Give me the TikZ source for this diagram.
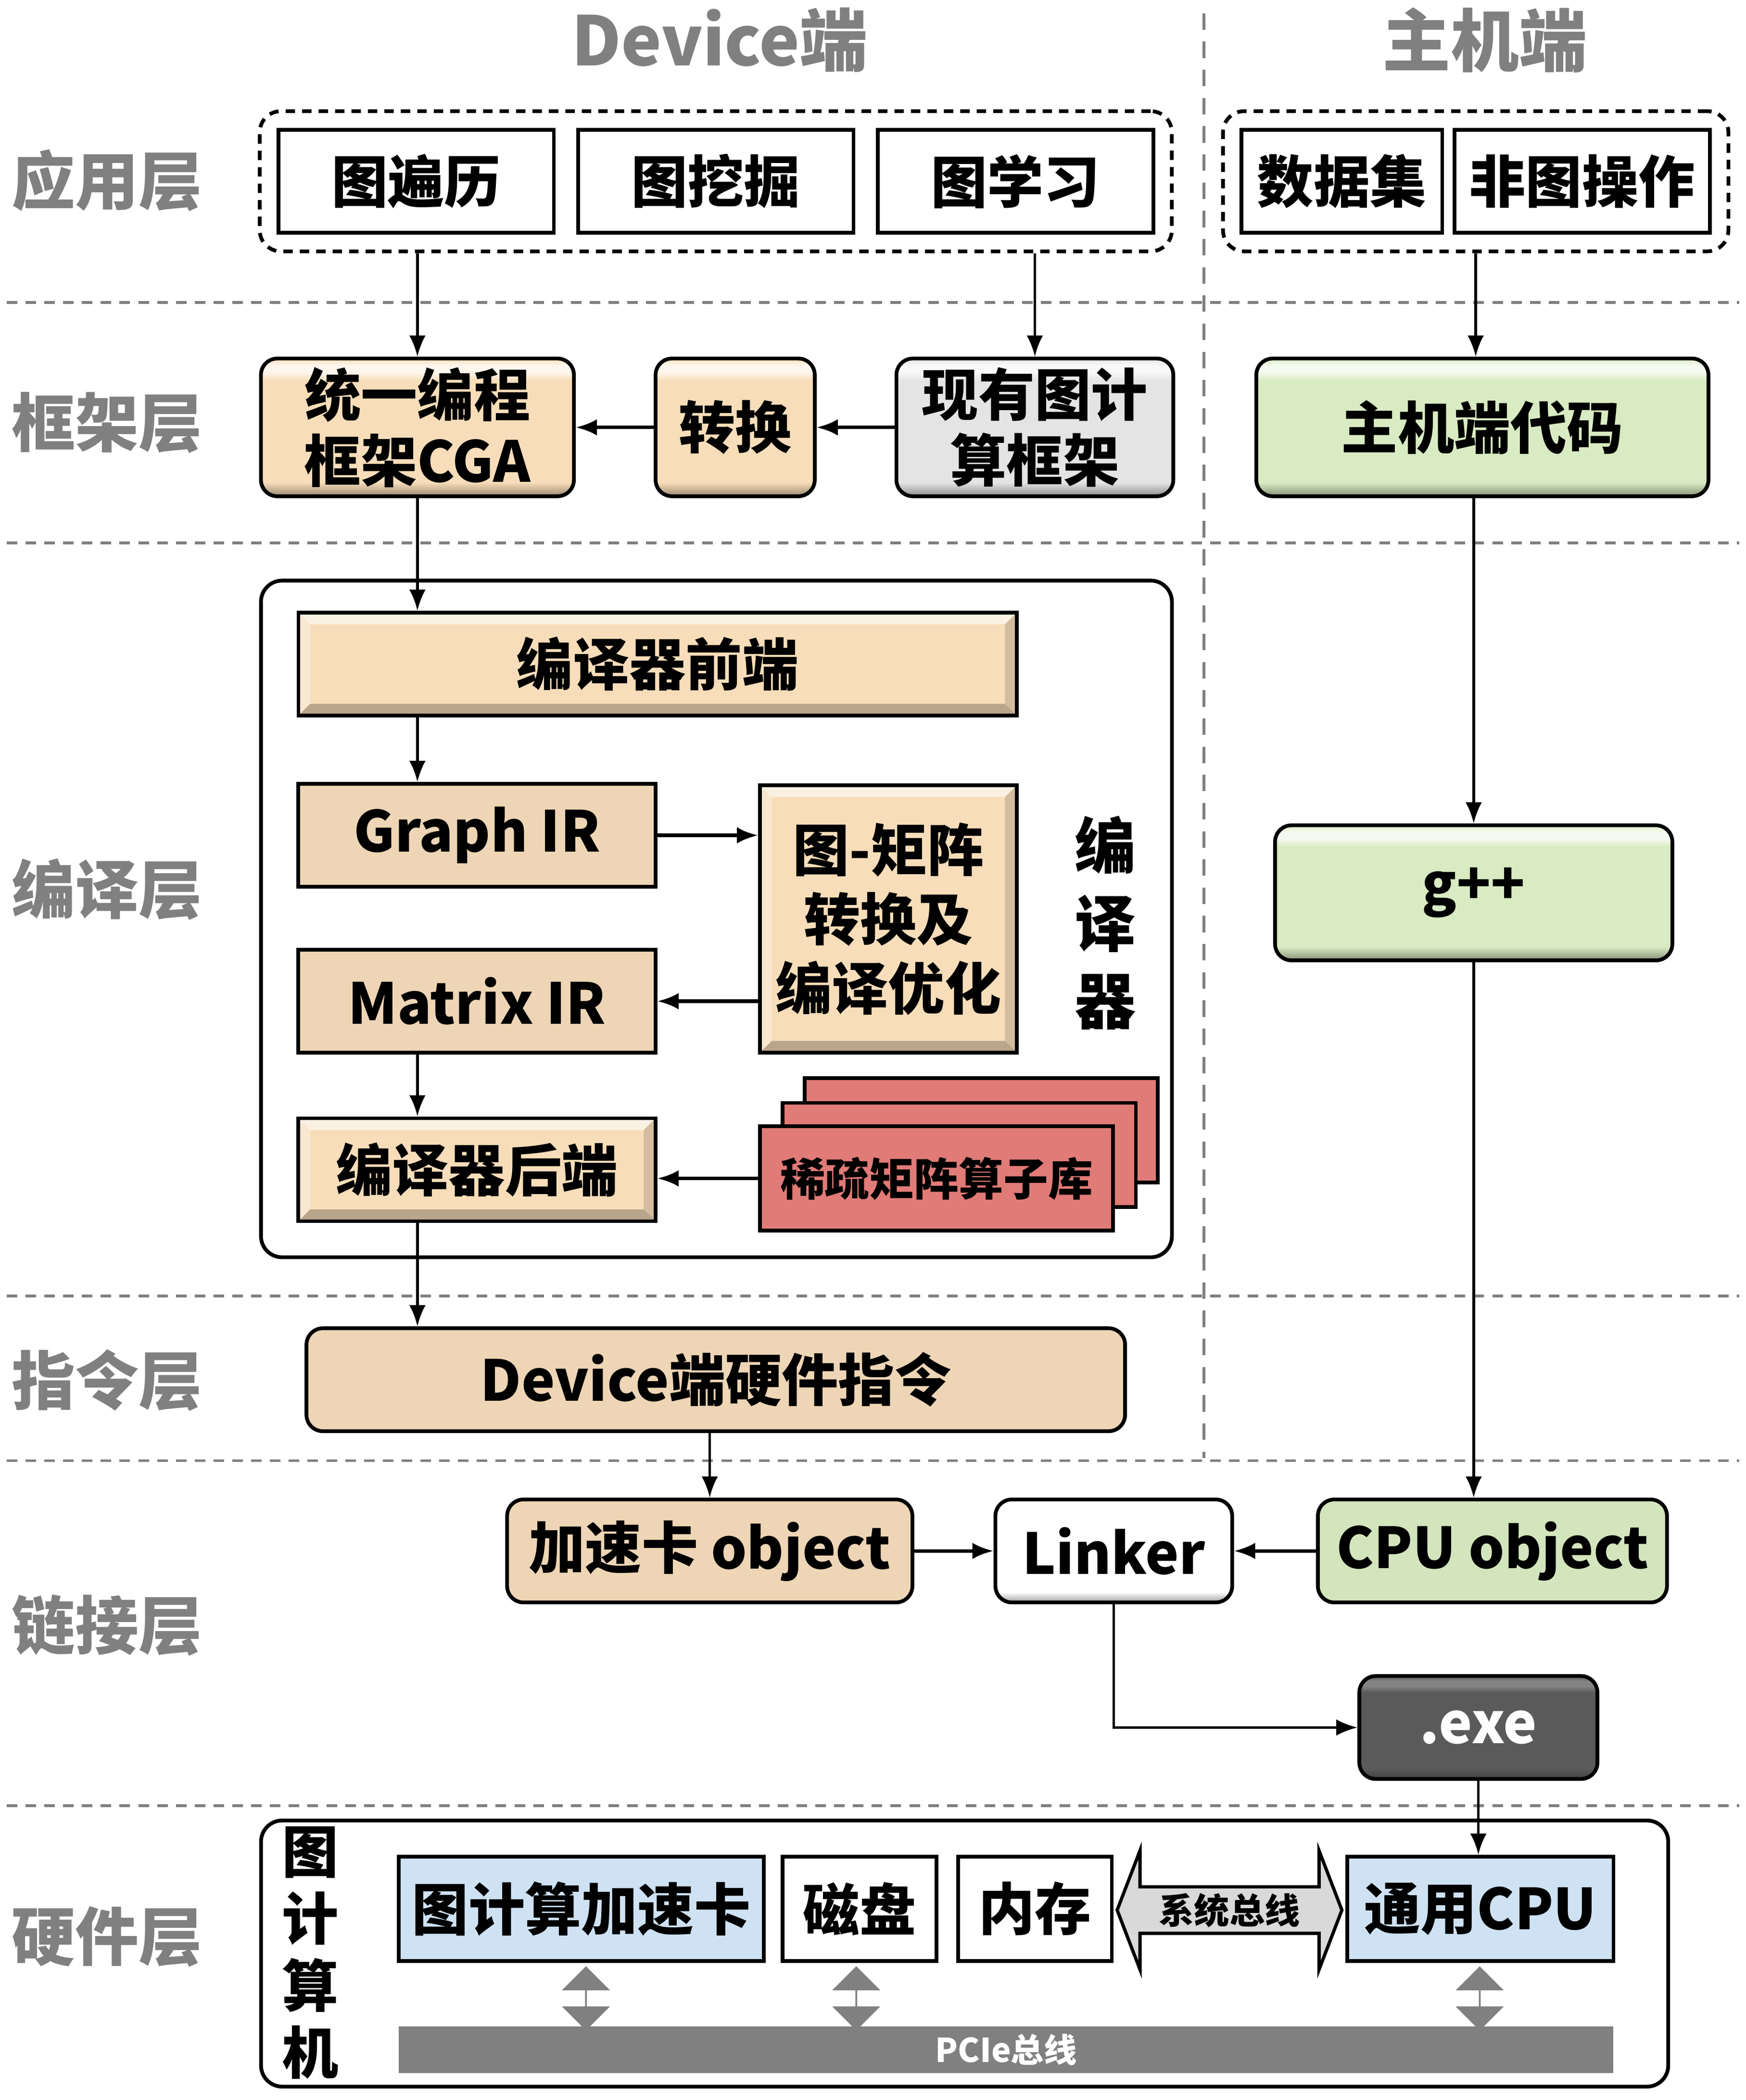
\documentclass[tikz,border=0pt]{standalone}
\usepackage{fontspec}
\setmainfont{Noto Sans CJK SC}
\usetikzlibrary{arrows.meta, calc, positioning, fit, shapes.arrows}

\definecolor{laygray}{HTML}{808080}
\definecolor{sepgray}{HTML}{7F7F7F}
\definecolor{wheatc}{HTML}{F7DDB9}
\definecolor{tanc}{HTML}{EED5B5}
\definecolor{greenc}{HTML}{D9EBC2}
\definecolor{cpugreen}{HTML}{D3E5BC}
\definecolor{redc}{HTML}{E17B77}
\definecolor{bluec}{HTML}{CFE2F3}
\definecolor{busgray}{HTML}{808080}
\definecolor{exegray}{HTML}{5A5A5A}
\definecolor{graybox}{HTML}{E4E4E4}
\colorlet{gelbase}{wheatc}
\colorlet{gellight}{white}
\colorlet{geldark}{black}

\pgfdeclareverticalshading[gelbase,gellight,geldark]{gelshade}{100bp}{
  color(0bp)=(geldark); color(25bp)=(geldark); color(30bp)=(gelbase);
  color(67bp)=(gelbase); color(70bp)=(gellight); color(72.5bp)=(gellight);
  color(75bp)=(gelbase); color(100bp)=(gelbase)}

\tikzset{
  bevel/.style={draw, line width=1.6pt, fill=#1, path picture={
    \path (path picture bounding box.north west) coordinate (b1)
          (path picture bounding box.north east) coordinate (b2)
          (path picture bounding box.south east) coordinate (b3)
          (path picture bounding box.south west) coordinate (b4);
    \fill[white, opacity=.6] (b1) -- (b2) -- ([shift={(-5pt,-5pt)}]b2) -- ([shift={(5pt,-5pt)}]b1) -- cycle;
    \fill[white, opacity=.35] (b1) -- (b4) -- ([shift={(5pt,5pt)}]b4) -- ([shift={(5pt,-5pt)}]b1) -- cycle;
    \fill[black, opacity=.25] (b4) -- (b3) -- ([shift={(-5pt,5pt)}]b3) -- ([shift={(5pt,5pt)}]b4) -- cycle;
    \fill[black, opacity=.15] (b2) -- (b3) -- ([shift={(-5pt,5pt)}]b3) -- ([shift={(-5pt,-5pt)}]b2) -- cycle;
  }},
  gel/.style={draw, line width=1.6pt, rounded corners=7pt,
    /utils/exec={\colorlet{gelbase}{#1}\colorlet{gellight}{#1!25!white}\colorlet{geldark}{#1!62!black}},
    shading=gelshade},
}

\begin{document}
\begin{tikzpicture}[x=0.02cm, y=-0.02cm, >={Latex[length=9pt, width=7pt]},
  every node/.style={inner sep=0pt, font=\bfseries},
  sep/.style={draw=sepgray, line width=1.2pt, dash pattern=on 4.5pt off 3.5pt},
  vsep/.style={draw=sepgray, line width=1.2pt, dash pattern=on 7pt off 5pt},
  hdr/.style={text=laygray, font=\fontsize{29}{29}\selectfont\bfseries},
  lyr/.style={text=laygray, font=\fontsize{27}{27}\selectfont\bfseries},
  bigtxt/.style={font=\fontsize{24}{28}\selectfont\bfseries},
  appbox/.style={draw, line width=1.6pt, fill=white, minimum height=1.54cm, bigtxt},
  grp/.style={draw, line width=1.6pt, dash pattern=on 4pt off 3pt, rounded corners=9pt, inner sep=0.25cm},
  panel/.style={draw, line width=1.6pt, rounded corners=9pt},
  flatbox/.style={draw, line width=1.6pt, fill=#1, bigtxt},
  rbox/.style={draw, line width=1.6pt, rounded corners=7pt, fill=#1, bigtxt},
  libbox/.style={draw, line width=1.6pt, fill=redc, minimum width=5.28cm, minimum height=1.56cm},
  hwbox/.style={draw, line width=1.6pt, fill=#1, minimum height=1.56cm, bigtxt},
  updown/.style={double arrow, fill=busgray, rotate=90, minimum height=0.96cm,
    minimum width=0.72cm, double arrow head extend=0.18cm, double arrow tip angle=90},
  wide/.style={line width=1.5pt},
  thinarr/.style={line width=1.1pt}]

  \useasboundingbox (0,0) rectangle (1305,1570);

  % layer separators
  \foreach \y in {226, 406, 969, 1092, 1350}
    \draw[sep] (5,\y) -- (1300,\y);
  \draw[vsep] (900,10) -- (900,1090);

  % headers and layer names
  \node[hdr] (devhdr) at (538,30) {Device端};
  \node[hdr] (hosthdr) at (1110,30) {主机端};
  \foreach \y/\txt in {135/应用层, 316/框架层, 665/编译层, 1032/指令层, 1215/链接层, 1448/硬件层}
    \node[lyr] (lyr\y) at (80,\y) {\txt};

  % containers
  \node[panel, minimum width=13.62cm, minimum height=10.12cm] (comp) at (535.5,687) {};
  \node[panel, minimum width=21.04cm, minimum height=3.98cm] (hw) at (721,1460.5) {};

  % application layer
  \node[appbox, minimum width=4.12cm] (bianli) at (311,135.5) {图遍历};
  \node[appbox, minimum width=4.12cm] (wajue) at (535,135.5) {图挖掘};
  \node[appbox, minimum width=4.12cm] (xuexi) at (759,135.5) {图学习};
  \node[appbox, minimum width=3cm] (dataset) at (1003,135.5) {数据集};
  \node[appbox, minimum width=3.82cm] (nongraph) at (1182.5,135.5) {非图操作};
  \node[grp, fit=(bianli)(xuexi)] (appdev) {};
  \node[grp, fit=(dataset)(nongraph)] (apphost) {};

  % framework layer
  \node[gel=wheatc, minimum width=4.68cm, minimum height=2.06cm, align=center, bigtxt] (cga) at (312,319.5) {统一编程\\框架CGA};
  \node[gel=wheatc, minimum width=2.38cm, minimum height=2.06cm, bigtxt] (conv) at (549.5,319.5) {转换};
  \node[gel=graybox, minimum width=4.14cm, minimum height=2.06cm, align=center, bigtxt] (exist) at (773.5,319.5) {现有图计\\算框架};
  \node[gel=greenc, minimum width=6.76cm, minimum height=2.06cm, bigtxt] (hostcode) at (1108,319.5) {主机端代码};

  % compile layer
  \node[bevel=wheatc, minimum width=10.74cm, minimum height=1.54cm, bigtxt] (front) at (491.5,496.5) {编译器前端};
  \node[flatbox=tanc, minimum width=5.34cm, minimum height=1.54cm] (graphir) at (356.5,624.5) {Graph IR};
  \node[bevel=wheatc, minimum width=3.84cm, minimum height=4cm, align=center,
    font=\fontsize{24}{29.5}\selectfont\bfseries] (g2m) at (664,687) {图-矩阵\\转换及\\编译优化};
  \node[flatbox=tanc, minimum width=5.34cm, minimum height=1.54cm] (matrixir) at (356.5,748.5) {Matrix IR};
  \node[bevel=wheatc, minimum width=5.34cm, minimum height=1.54cm, bigtxt] (backend) at (356.5,874.5) {编译器后端};
  \node[libbox] (lib3) at (733.5,845) {};
  \node[libbox] (lib2) at (717,863.5) {};
  \node[libbox, font=\fontsize{19}{19}\selectfont\bfseries] (sparse) at (700,881) {稀疏矩阵算子库};
  \node[align=center, font=\fontsize{26}{33}\selectfont\bfseries] (compname) at (826,690) {编\\译\\器};
  \node[gel=greenc, minimum width=5.94cm, minimum height=2.02cm, bigtxt] (gpp) at (1101.5,667.5) {g++};

  % instruction and link layers
  \node[rbox=tanc, minimum width=12.24cm, minimum height=1.54cm] (instr) at (535,1031.5) {Device端硬件指令};
  \node[rbox=tanc, minimum width=6.06cm, minimum height=1.54cm] (accobj) at (530.5,1159.5) {加速卡 object};
  \node[gel=white, minimum width=3.54cm, minimum height=1.54cm, bigtxt] (linker) at (832.5,1159.5) {Linker};
  \node[rbox=cpugreen, minimum width=5.22cm, minimum height=1.54cm] (cpuobj) at (1115.5,1159.5) {CPU object};
  \node[gel=exegray, /utils/exec={\colorlet{gellight}{exegray!75!white}\colorlet{geldark}{exegray!70!black}},
    text=white, minimum width=3.56cm, minimum height=1.54cm, bigtxt] (exe) at (1105,1291.5) {.exe};

  % hardware layer
  \node[align=center, font=\fontsize{24}{28.5}\selectfont\bfseries] (hwname) at (232,1460) {图\\计\\算\\机};
  \node[hwbox=bluec, minimum width=5.46cm] (acc) at (434.5,1427) {图计算加速卡};
  \node[hwbox=white, minimum width=2.3cm] (disk) at (642.5,1427) {磁盘};
  \node[hwbox=white, minimum width=2.3cm] (mem) at (773.5,1427) {内存};
  \node[double arrow, draw, line width=1.4pt, fill=black!15, minimum height=3.36cm,
    minimum width=1.78cm, double arrow head extend=0.44cm, double arrow tip angle=138,
    font=\fontsize{15}{15}\selectfont\bfseries] (sysbus) at (919,1428) {系统总线};
  \node[hwbox=bluec, minimum width=3.98cm] (gcpu) at (1106.5,1427) {通用CPU};
  \node[fill=busgray, text=white, minimum width=18.16cm, minimum height=0.7cm,
    font=\fontsize{14}{14}\selectfont\bfseries] (pcie) at (752,1532.5) {PCIe总线};
  \foreach \x/\n in {438/a, 640/b, 1106/c}
    \node[updown] (link\n) at (\x,1494) {};

  % connectors
  \draw[->, thinarr] (appdev.south -| cga) -- (cga);
  \draw[->, thinarr] (appdev.south -| exist) -- (exist);
  \draw[->, thinarr] (apphost.south) -- (apphost.south |- hostcode.north);
  \draw[->, wide] (exist) -- (conv);
  \draw[->, wide] (conv) -- (cga);
  \draw[->, thinarr] (cga) -- (cga |- front.north);
  \draw[->, thinarr] (cga |- front.south) -- (cga |- graphir.north);
  \draw[->, wide] (graphir) -- (graphir -| g2m.west);
  \draw[->, wide] (g2m.west |- matrixir) -- (matrixir);
  \draw[->, thinarr] (cga |- matrixir.south) -- (cga |- backend.north);
  \draw[->, wide] (sparse) -- (sparse -| backend.east);
  \draw[->, thinarr] (cga |- backend.south) -- (cga |- instr.north);
  \draw[->, thinarr] (instr.south -| accobj) -- (accobj);
  \draw[->, thinarr] (gpp |- hostcode.south) -- (gpp);
  \draw[->, thinarr] (gpp) -- (gpp |- cpuobj.north);
  \draw[->, wide] (accobj) -- (linker);
  \draw[->, wide] (cpuobj) -- (linker);
  \draw[->, thinarr] (linker) |- (exe);
  \draw[->, thinarr] (exe) -- (exe |- gcpu.north);
\end{tikzpicture}
\end{document}
